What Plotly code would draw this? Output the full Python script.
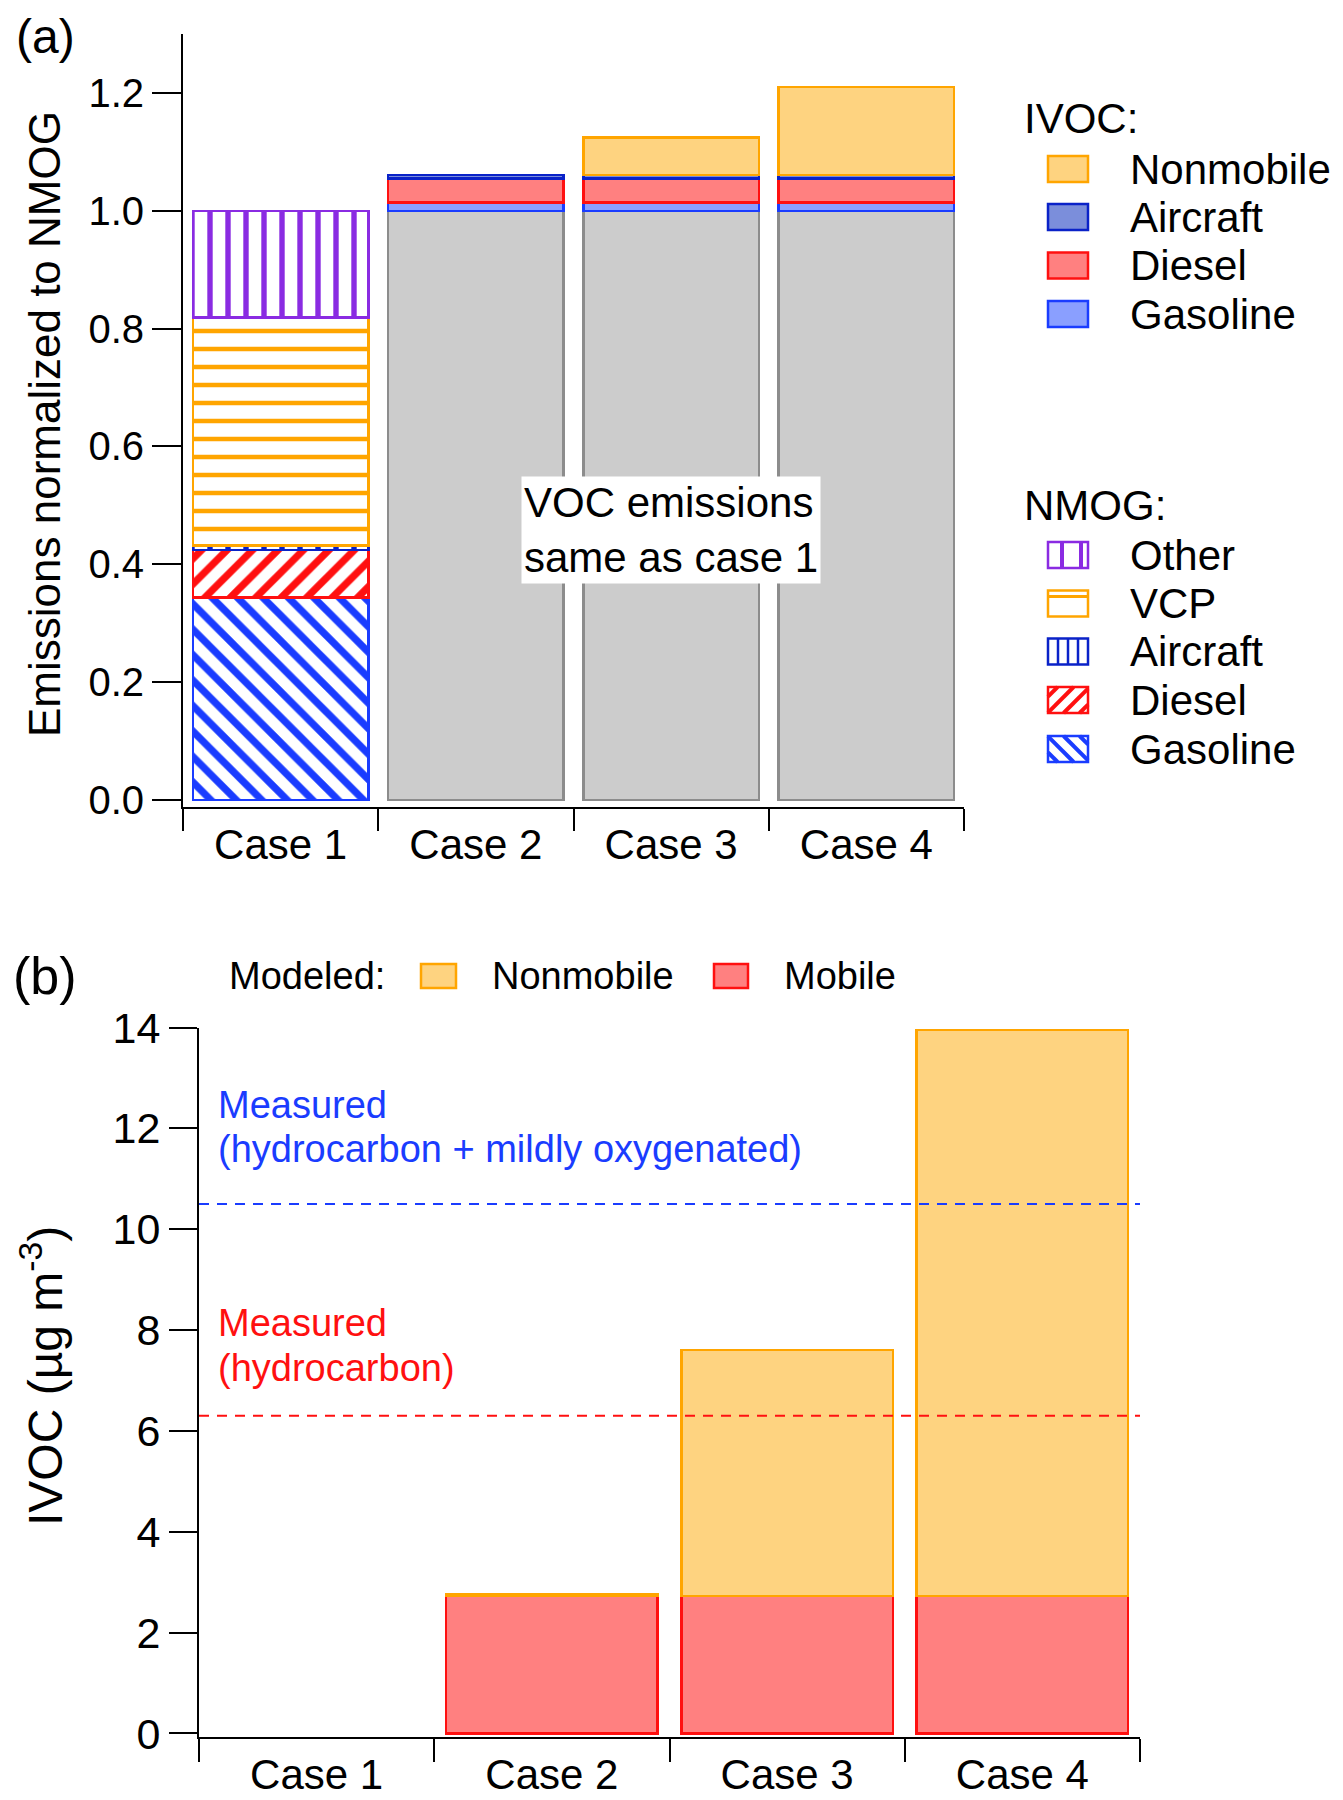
import plotly.graph_objects as go

# The page body adds an 8px margin, so the figure is sized to fill the window exactly.
OFF = 8
W, H = 1343 - OFF, 1800 - OFF
FONT = "Liberation Sans, Arial, sans-serif"

# ---------------- data ----------------
cases = ["Case 1", "Case 2", "Case 3", "Case 4"]

# Panel (a): emissions normalized to NMOG
nmog_gasoline = [0.344, None, None, None]
nmog_diesel = [0.080, None, None, None]
nmog_aircraft = [0.008, None, None, None]
nmog_vcp = [0.387, None, None, None]
nmog_other = [0.181, None, None, None]
voc_same_as_case1 = [None, 1.0, 1.0, 1.0]
ivoc_gasoline = [None, 0.014, 0.014, 0.014]
ivoc_diesel = [None, 0.041, 0.041, 0.041]
ivoc_aircraft = [None, 0.006, 0.006, 0.006]
ivoc_nonmobile = [None, None, 0.063, 0.149]
a_yticks = [0.0, 0.2, 0.4, 0.6, 0.8, 1.0, 1.2]

# Panel (b): IVOC concentrations
modeled_mobile = [None, 2.73, 2.73, 2.73]
modeled_nonmobile = [None, 0.04, 4.87, 11.22]
measured_hc_oxy = 10.5
measured_hc = 6.3
b_yticks = [0, 2, 4, 6, 8, 10, 12, 14]

# ---------------- styles ----------------
BLUE = "#1a3cff"
RED = "#ff1010"
ORANGE = "#ffa500"
PURPLE = "#8a2be2"
DKBLUE = "#0a22c8"
F_NONMOB = "#fed380"
F_RED = "#ff8080"
F_BLUE = "#8a9fff"
F_AIR = "#7b8edb"
GREY = "#cccccc"
GREY_LINE = "#8c8c8c"


def px(x):
    return (x - OFF) / W


def py(y):
    return 1 - (y - OFF) / H


fig = go.Figure()


def hatch_bar(y, name, color, shape, solidity, xa="x", ya="y"):
    fig.add_trace(go.Bar(
        x=cases, y=y, name=name, xaxis=xa, yaxis=ya, showlegend=False,
        marker=dict(color="white", line=dict(color=color, width=2.5),
                    pattern=dict(shape=shape, size=18, solidity=solidity,
                                 fgcolor=color, bgcolor="white", fgopacity=1)),
    ))


def solid_bar(y, name, fill, line, xa="x", ya="y"):
    fig.add_trace(go.Bar(
        x=cases, y=y, name=name, xaxis=xa, yaxis=ya, showlegend=False,
        marker=dict(color=fill, line=dict(color=line, width=2.5)),
    ))


# Panel (a) stacks
hatch_bar(nmog_gasoline, "NMOG Gasoline", BLUE, "\\", 0.4)
hatch_bar(nmog_diesel, "NMOG Diesel", RED, "/", 0.4)
hatch_bar(nmog_aircraft, "NMOG Aircraft", DKBLUE, "|", 0.3)
hatch_bar(nmog_vcp, "NMOG VCP", ORANGE, "-", 0.25)
hatch_bar(nmog_other, "NMOG Other", PURPLE, "|", 0.3)
solid_bar(voc_same_as_case1, "VOC (same as case 1)", GREY, GREY_LINE)
solid_bar(ivoc_gasoline, "IVOC Gasoline", F_BLUE, BLUE)
solid_bar(ivoc_diesel, "IVOC Diesel", F_RED, RED)
solid_bar(ivoc_aircraft, "IVOC Aircraft", F_AIR, DKBLUE)
solid_bar(ivoc_nonmobile, "IVOC Nonmobile", F_NONMOB, ORANGE)

# Panel (b) stacks
solid_bar(modeled_mobile, "Mobile", F_RED, RED, "x2", "y2")
solid_bar(modeled_nonmobile, "Nonmobile", F_NONMOB, ORANGE, "x2", "y2")

axis_common = dict(showline=True, linecolor="black", linewidth=2,
                   ticks="outside", tickwidth=2, tickcolor="black",
                   showgrid=False, zeroline=False, color="black",
                   automargin=False)

fig.update_layout(
    width=W, height=H, margin=dict(l=0, r=0, t=0, b=0, autoexpand=False),
    paper_bgcolor="white", plot_bgcolor="white",
    barmode="stack", bargap=0.1,
    font=dict(family=FONT, color="black"),
    xaxis=dict(domain=[px(183), px(964)], anchor="y", type="category",
               categoryorder="array", categoryarray=cases,
               range=[-0.5, 3.5], tickson="boundaries", ticklen=22,
               tickfont=dict(size=42), **axis_common),
    yaxis=dict(domain=[py(807), py(34)], anchor="x", range=[-0.012, 1.3],
               tickvals=a_yticks, tickformat=".1f", ticklen=29,
               tickfont=dict(size=40), **axis_common),
    xaxis2=dict(domain=[px(199), px(1140)], anchor="y2", type="category",
                categoryorder="array", categoryarray=cases,
                range=[-0.5, 3.5], tickson="boundaries", ticklen=23,
                tickfont=dict(size=42), **axis_common),
    yaxis2=dict(domain=[py(1737), py(1027.5)], anchor="x2", range=[-0.07, 14],
                tickvals=b_yticks, ticklen=28,
                tickfont=dict(size=43), **axis_common),
)

shapes = []
ann = []

# measured dashed lines in (b)
for val, col in [(measured_hc_oxy, BLUE), (measured_hc, RED)]:
    shapes.append(dict(type="line", xref="x2 domain", yref="y2",
                       x0=0, x1=1, y0=val, y1=val,
                       line=dict(color=col, width=2, dash="10px,8px")))


def text(x, y, s, size, color="black", xanchor="left", angle=0, yanchor="middle"):
    ann.append(dict(xref="paper", yref="paper", x=px(x), y=py(y), text=s,
                    showarrow=False, xanchor=xanchor, yanchor=yanchor,
                    textangle=angle, font=dict(size=size, color=color, family=FONT)))


# panel labels
text(45, 8, "(a)", 48, xanchor="center", yanchor="top")
text(45, 976, "(b)", 52, xanchor="center")

# axis titles
text(44, 424, "Emissions normalized to NMOG", 44, xanchor="center", angle=-90)
text(42, 1376, "IVOC (µg m<sup>-3</sup>)", 48, xanchor="center", angle=-90)

# VOC box annotation
ann.append(dict(xref="x", yref="y", x="Case 3", y=0.459,
                text="VOC emissions<br>same as case 1", showarrow=False,
                align="left", bgcolor="white", borderpad=2,
                font=dict(size=42, color="black", family=FONT)))

# measured labels
text(216, 1105, "Measured", 38, BLUE)
text(216, 1149, "(hydrocarbon + mildly oxygenated)", 38, BLUE)
text(216, 1323, "Measured", 38, RED)
text(216, 1368, "(hydrocarbon)", 38, RED)


# ---------- legend (a) ----------
def rect(x0, y0, x1, y1, fill, line):
    shapes.append(dict(type="rect", xref="paper", yref="paper",
                       x0=px(x0), x1=px(x1), y0=py(y1), y1=py(y0),
                       fillcolor=fill, line=dict(color=line, width=2.5)))


def seg(xa, ya, xb, yb, col, w):
    shapes.append(dict(type="line", xref="paper", yref="paper",
                       x0=px(xa), y0=py(ya), x1=px(xb), y1=py(yb),
                       line=dict(color=col, width=w)))


def diag(x0, y0, x1, y1, col, forward, spacing=16):
    # forward: '/' lines (x + y = c); else '\' lines (x - y = c)
    if forward:
        c = x0 + y0 + spacing * 0.6
        while c < x1 + y1:
            xa = max(x0, c - y1)
            xb = min(x1, c - y0)
            if xb > xa:
                seg(xa, c - xa, xb, c - xb, col, 4)
            c += spacing
    else:
        c = x0 - y1 + spacing * 0.6
        while c < x1 - y0:
            xa = max(x0, y0 + c)
            xb = min(x1, y1 + c)
            if xb > xa:
                seg(xa, xa - c, xb, xb - c, col, 4)
            c += spacing


SX0, SX1, SH = 1048, 1088, 26
LX = 1128
text(1022, 118, "IVOC:", 42)
ivoc_items = [("Nonmobile", F_NONMOB, ORANGE, 169),
              ("Aircraft", F_AIR, DKBLUE, 217),
              ("Diesel", F_RED, RED, 265.5),
              ("Gasoline", F_BLUE, BLUE, 314)]
for lab, fill, line, yc in ivoc_items:
    rect(SX0, yc - SH / 2, SX1, yc + SH / 2, fill, line)
    text(LX, yc, lab, 42)

text(1022, 505, "NMOG:", 42)
nmog_items = [("Other", PURPLE, 555), ("VCP", ORANGE, 603.5),
              ("Aircraft", DKBLUE, 651.5), ("Diesel", RED, 700),
              ("Gasoline", BLUE, 749)]
for lab, col, yc in nmog_items:
    y0, y1 = yc - SH / 2, yc + SH / 2
    rect(SX0, y0, SX1, y1, "white", col)
    if lab == "Other":
        for xv in (SX0 + 14, SX0 + 33):
            seg(xv, y0, xv, y1, col, 4)
    elif lab == "VCP":
        seg(SX0, y0 + 6, SX1, y0 + 6, col, 3)
    elif lab == "Aircraft":
        for k in (1, 2, 3):
            xv = SX0 + k * (SX1 - SX0) / 4
            seg(xv, y0, xv, y1, col, 2.5)
    elif lab == "Diesel":
        diag(SX0, y0, SX1, y1, col, True)
    elif lab == "Gasoline":
        diag(SX0, y0, SX1, y1, col, False)
    text(LX, yc, lab, 42)

# ---------- legend (b) ----------
text(227, 976, "Modeled:", 38)
rect(421, 964, 456, 988, F_NONMOB, ORANGE)
text(490, 976, "Nonmobile", 38)
rect(714, 964, 748, 988, F_RED, RED)
text(782, 976, "Mobile", 38)

fig.update_layout(shapes=shapes, annotations=ann)
fig.write_html("out.html")
